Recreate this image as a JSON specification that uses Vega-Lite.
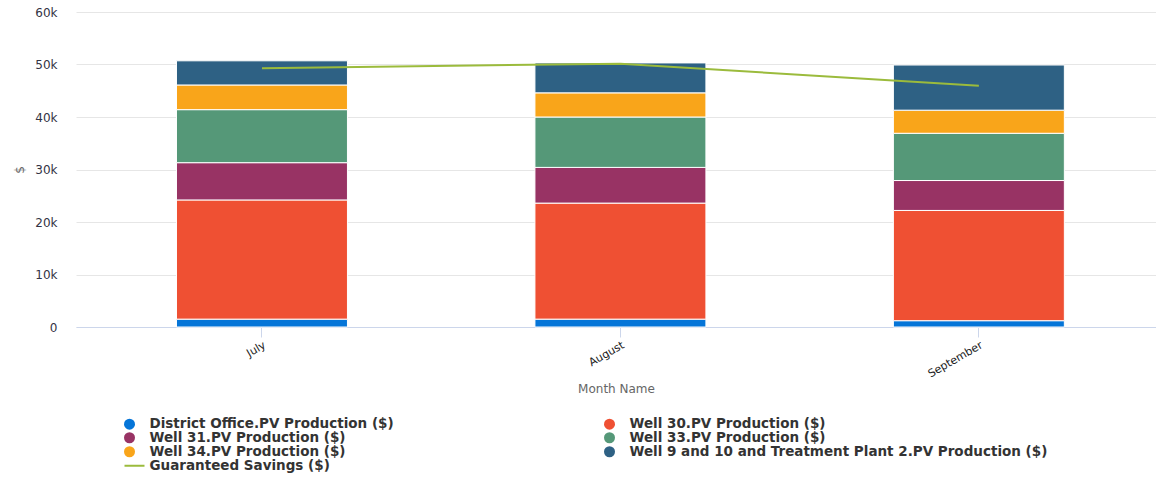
{
  "$schema": "https://vega.github.io/schema/vega-lite/v6.json",
  "autosize": {"type": "none"},
  "width": 1080,
  "height": 315,
  "padding": {"left": 76, "top": 12, "right": 0, "bottom": 152},
  "background": "#ffffff",
  "config": {
    "font": "DejaVu Sans",
    "view": {"stroke": null},
    "axis": {"labelFont": "DejaVu Sans", "titleFont": "DejaVu Sans"},
    "legend": {
      "orient": "none",
      "direction": "horizontal",
      "legendX": 48,
      "legendY": 405,
      "columns": 2,
      "columnPadding": 210,
      "rowPadding": -2,
      "symbolType": "circle",
      "symbolSize": 121,
      "labelOffset": 12,
      "labelFontSize": 13.5,
      "labelFontWeight": "bold",
      "labelColor": "#333333",
      "labelLimit": 600
    }
  },
  "datasets": {
    "production": [
      {"month": "July", "series": "District Office.PV Production ($)", "value": 1500},
      {"month": "July", "series": "Well 30.PV Production ($)", "value": 22700},
      {"month": "July", "series": "Well 31.PV Production ($)", "value": 7100},
      {"month": "July", "series": "Well 33.PV Production ($)", "value": 10100},
      {"month": "July", "series": "Well 34.PV Production ($)", "value": 4700},
      {"month": "July", "series": "Well 9 and 10 and Treatment Plant 2.PV Production ($)", "value": 4600},
      {"month": "August", "series": "District Office.PV Production ($)", "value": 1500},
      {"month": "August", "series": "Well 30.PV Production ($)", "value": 22100},
      {"month": "August", "series": "Well 31.PV Production ($)", "value": 6800},
      {"month": "August", "series": "Well 33.PV Production ($)", "value": 9600},
      {"month": "August", "series": "Well 34.PV Production ($)", "value": 4600},
      {"month": "August", "series": "Well 9 and 10 and Treatment Plant 2.PV Production ($)", "value": 5700},
      {"month": "September", "series": "District Office.PV Production ($)", "value": 1200},
      {"month": "September", "series": "Well 30.PV Production ($)", "value": 21000},
      {"month": "September", "series": "Well 31.PV Production ($)", "value": 5700},
      {"month": "September", "series": "Well 33.PV Production ($)", "value": 9000},
      {"month": "September", "series": "Well 34.PV Production ($)", "value": 4400},
      {"month": "September", "series": "Well 9 and 10 and Treatment Plant 2.PV Production ($)", "value": 8600}
    ],
    "savings": [
      {"month": "July", "savings": 49300},
      {"month": "August", "savings": 50150},
      {"month": "September", "savings": 45950}
    ]
  },
  "encoding": {
    "x": {
      "field": "month",
      "type": "nominal",
      "sort": ["July", "August", "September"],
      "title": "Month Name",
      "scale": {"paddingInner": 0.523, "paddingOuter": 0.268, "align": 0.523},
      "axis": {
        "labelAngle": -30,
        "labelFontSize": 11,
        "labelColor": "#222222",
        "labelPadding": 2,
        "domainColor": "#ccd6eb",
        "tickColor": "#ccd6eb",
        "tickSize": 10,
        "titleColor": "#666666",
        "titleFontSize": 12,
        "titleFontWeight": "normal",
        "titlePadding": 5
      }
    }
  },
  "layer": [
    {
      "data": {"name": "production"},
      "mark": {"type": "bar", "stroke": "#ffffff", "strokeWidth": 1},
      "encoding": {
        "y": {
          "field": "value",
          "type": "quantitative",
          "stack": "zero",
          "title": "$",
          "scale": {"domain": [0, 60000]},
          "axis": {
            "values": [0, 10000, 20000, 30000, 40000, 50000, 60000],
            "labelExpr": "datum.value === 0 ? '0' : (datum.value / 1000) + 'k'",
            "domain": false,
            "ticks": false,
            "labelPadding": 19,
            "labelFontSize": 12,
            "labelColor": "#333344",
            "gridColor": "#e6e6e6",
            "titleColor": "#666666",
            "titleFontSize": 12,
            "titleFontWeight": "normal",
            "titlePadding": 8
          }
        },
        "order": {"field": "series", "sort": "ascending"},
        "color": {
          "field": "series",
          "type": "nominal",
          "scale": {
            "domain": [
              "District Office.PV Production ($)",
              "Well 30.PV Production ($)",
              "Well 31.PV Production ($)",
              "Well 33.PV Production ($)",
              "Well 34.PV Production ($)",
              "Well 9 and 10 and Treatment Plant 2.PV Production ($)",
              "Guaranteed Savings ($)"
            ],
            "range": ["#0575d8", "#ef5033", "#983364", "#559878", "#f9a51a", "#2e6184", "#9bbb3c"]
          },
          "legend": {
            "title": null,
            "encode": {
              "symbols": {
                "update": {
                  "shape": {"signal": "datum.value === 'Guaranteed Savings ($)' ? 'stroke' : 'circle'"},
                  "size": {"signal": "datum.value === 'Guaranteed Savings ($)' ? 400 : 121"},
                  "x": {"signal": "datum.value === 'Guaranteed Savings ($)' ? 10.5 : 5.5"},
                  "fill": {"scale": "color", "field": "value"},
                  "stroke": {"scale": "color", "field": "value"},
                  "strokeWidth": {"signal": "datum.value === 'Guaranteed Savings ($)' ? 2 : 0"},
                  "opacity": {"value": 1}
                }
              }
            }
          }
        }
      }
    },
    {
      "data": {"name": "savings"},
      "mark": {"type": "line", "strokeWidth": 2},
      "encoding": {
        "y": {"field": "savings", "type": "quantitative"},
        "color": {
          "datum": "Guaranteed Savings ($)",
          "legend": {
            "title": null,
            "encode": {
              "symbols": {
                "update": {
                  "shape": {"signal": "datum.value === 'Guaranteed Savings ($)' ? 'stroke' : 'circle'"},
                  "size": {"signal": "datum.value === 'Guaranteed Savings ($)' ? 400 : 121"},
                  "x": {"signal": "datum.value === 'Guaranteed Savings ($)' ? 10.5 : 5.5"},
                  "fill": {"scale": "color", "field": "value"},
                  "stroke": {"scale": "color", "field": "value"},
                  "strokeWidth": {"signal": "datum.value === 'Guaranteed Savings ($)' ? 2 : 0"},
                  "opacity": {"value": 1}
                }
              }
            }
          }
        }
      }
    }
  ]
}
